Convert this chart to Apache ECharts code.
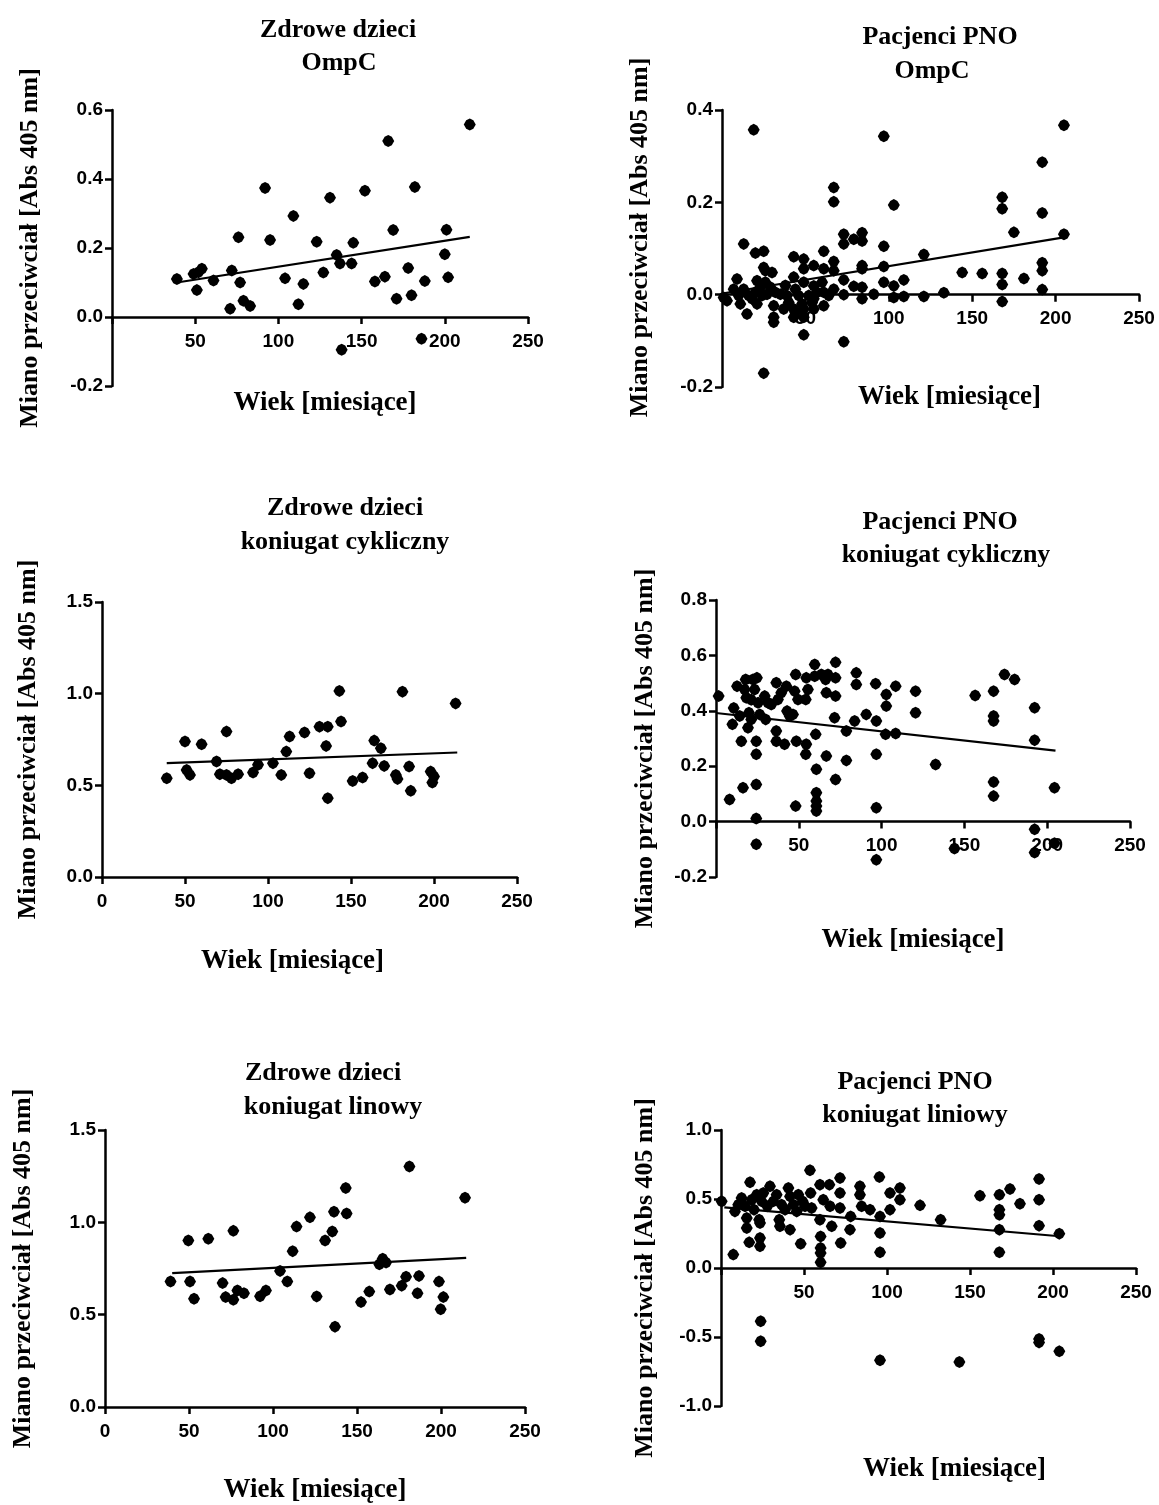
<!DOCTYPE html>
<html>
<head>
<meta charset="utf-8">
<script src="https://cdn.jsdelivr.net/npm/echarts@6/dist/echarts.min.js"></script>
<style>html,body{margin:0;padding:0;background:#fff}#c{width:1159px;height:1505px}</style>
</head>
<body>
<div id="c"></div>
<script>
// ---------- DATA ----------
var xTicks = [0, 50, 100, 150, 200, 250];
var yTitle = 'Miano przeciwciał [Abs 405 nm]';
var xTitle = 'Wiek [miesiące]';

// Panel 1: Zdrowe dzieci / OmpC
var p1x = [39,49,52,54,51,61,71,72,76,77,79,83,92,95,104,109,112,115,123,127,131,135,137,138,144,145,152,158,164,166,169,171,178,180,182,186,188,200,201,202,215];
var p1y = [0.11,0.125,0.13,0.14,0.078,0.106,0.024,0.135,0.231,0.10,0.047,0.032,0.374,0.223,0.112,0.293,0.037,0.096,0.218,0.129,0.346,0.18,0.155,-0.095,0.155,0.215,0.366,0.103,0.117,0.51,0.252,0.053,0.142,0.063,0.377,-0.063,0.104,0.182,0.253,0.115,0.558];
var p1lineX = [39, 215];
var p1lineY = [0.10, 0.232];

// Panel 2: Pacjenci PNO / OmpC
var p2x = [19,97,205,192,67,67,103,168,168,192,175,205,73,73,79,84,84,13,20,25,97,121,61,25,26,30,9,43,49,49,55,67,67,61,84,84,97,97,103,109,144,156,168,168,168,181,192,192,192,133,121,109,103,91,84,84,79,73,73,73,67,61,49,25,15,11,3,31,31,31,37,43,43,44,49,49,55,55,13,16,18,20,21,23,24,26,27,29,32,35,38,39,43,44,46,49,52,55,57,60,61,64,40,48,54,7,10,1,21];
var p2y = [0.357,0.343,0.367,0.287,0.232,0.201,0.194,0.211,0.186,0.177,0.135,0.131,0.131,0.11,0.12,0.134,0.116,0.11,0.09,0.094,0.105,0.087,0.094,0.059,0.052,0.048,0.034,0.082,0.077,0.056,0.063,0.072,0.052,0.056,0.063,0.056,0.061,0.027,0.019,0.032,0.048,0.046,0.046,0.022,-0.015,0.035,0.069,0.052,0.011,0.004,-0.004,-0.004,-0.006,0.001,0.016,-0.009,0.018,0.032,0.0,-0.102,0.012,-0.024,-0.087,-0.17,-0.042,-0.02,-0.013,-0.024,-0.049,-0.06,-0.031,-0.031,-0.049,-0.038,-0.049,-0.031,-0.031,-0.009,0.012,-0.002,-0.009,0.005,-0.02,0.016,-0.002,0.027,0.001,0.016,0.005,0.001,0.02,-0.002,0.038,0.012,-0.002,0.027,-0.002,0.019,0.005,0.027,0.005,-0.002,-0.017,-0.02,-0.017,0.012,-0.002,-0.006,0.03];
var p2lineX = [1, 205];
var p2lineY = [0.003, 0.124];

// Panel 3: Zdrowe dzieci / koniugat cykliczny
var p3x = [39,50,51,53,60,69,71,75,75,78,82,91,94,103,108,111,113,122,125,131,136,135,136,143,144,151,157,163,164,168,170,177,178,181,185,186,198,200,199,213];
var p3y = [0.539,0.739,0.584,0.557,0.724,0.63,0.561,0.793,0.557,0.539,0.561,0.57,0.612,0.621,0.557,0.684,0.766,0.788,0.566,0.82,0.82,0.715,0.43,1.015,0.848,0.524,0.543,0.621,0.744,0.702,0.606,0.557,0.535,1.011,0.603,0.47,0.575,0.548,0.515,0.947];
var p3lineX = [39, 214];
var p3lineY = [0.621, 0.679];

// Panel 4: Pacjenci PNO / koniugat cykliczny
var p4x = [1.6,8.2,9.9,10.7,12.7,14.3,15.3,16.3,17.3,18.3,17.9,19.3,19.9,21.3,21.3,22.3,23.3,24.3,24.3,24.3,24.3,24.3,24.7,25.4,26.4,29.4,30,31.4,33.4,36.4,36.4,36.4,37.4,39.4,41.4,42.5,42.9,44.5,46.5,47.5,48.1,48.5,48.1,49.5,54.5,54.2,54.5,54.2,55.5,59.6,59.6,60.2,60.6,60.6,60.6,60.6,60.6,63.6,66.2,66.6,66.6,67.6,72.2,72.2,72.2,71.6,72.2,78.7,78.7,83.7,84.7,84.7,90.7,96.4,96.8,96.8,96.8,96.8,102.4,102.8,102.8,108.5,108.5,120.5,120.5,132.6,144,156.5,167.6,167.6,167.6,167.6,167.6,174.2,180.3,192.4,192.4,192.4,192.4,204.4,204.4];
var p4y = [0.453,0.08,0.351,0.41,0.489,0.381,0.29,0.122,0.477,0.447,0.513,0.339,0.393,0.369,0.44,0.513,0.477,0.29,0.243,0.134,0.011,-0.082,0.519,0.429,0.387,0.453,0.369,0.429,0.423,0.501,0.327,0.29,0.441,0.465,0.279,0.489,0.399,0.381,0.387,0.471,0.531,0.29,0.056,0.441,0.519,0.441,0.279,0.243,0.477,0.567,0.525,0.315,0.189,0.104,0.074,0.056,0.038,0.531,0.513,0.465,0.237,0.531,0.575,0.519,0.453,0.375,0.152,0.327,0.221,0.363,0.537,0.495,0.387,0.498,0.363,0.243,0.05,-0.138,0.315,0.459,0.417,0.489,0.318,0.471,0.393,0.206,-0.097,0.455,0.471,0.381,0.363,0.143,0.092,0.531,0.513,0.411,0.294,-0.028,-0.112,0.122,-0.078];
var p4lineX = [0, 205];
var p4lineY = [0.392, 0.256];

// Panel 5: Zdrowe dzieci / koniugat linowy
var p5x = [39,49.6,50.6,53,61.5,70,71.8,76.4,76.4,78.8,82.7,92.3,95.8,104.2,108.5,111.7,114,122,126,131,135.3,136.3,136.9,143.3,143.8,152.4,157.3,163.3,165.3,167.3,169.6,176.6,179.2,181.2,186,186.9,198.8,201.4,199.8,214.3];
var p5y = [0.68,0.902,0.68,0.586,0.911,0.671,0.595,0.954,0.581,0.631,0.616,0.6,0.631,0.737,0.68,0.844,0.977,1.027,0.599,0.902,0.95,1.057,0.435,1.186,1.048,0.568,0.625,0.773,0.803,0.782,0.636,0.657,0.705,1.302,0.616,0.71,0.679,0.595,0.529,1.133];
var p5lineX = [40, 215];
var p5lineY = [0.725, 0.808];

// Panel 6: Pacjenci PNO / koniugat liniowy
var p6x = [0.4,7.4,8.4,10.4,12.4,14.5,15.5,15.5,17,17.5,18.5,19.9,21.5,23,23.5,23.5,23.9,23.9,23.5,24.5,25.5,27.9,29.5,31.5,33.5,35.1,35.5,36.5,38.6,40.6,41.6,41.6,43.6,45.6,46.6,48,49.2,50.6,53.6,54,54.6,59.6,59.6,60,60,60,60,61.6,65.3,65.7,66.7,71.7,71.7,71.7,72.1,77.7,78.1,83.7,83.7,84.7,89.8,95.4,95.8,95.8,95.8,95.8,101.8,101.8,107.8,107.8,119.9,132.3,143.6,156,167.7,167.7,167.7,167.7,167.7,174.1,180.1,191.6,191.6,191.6,191.6,191.6,203.8,203.8];
var p6y = [0.483,0.097,0.41,0.459,0.507,0.447,0.362,0.29,0.186,0.621,0.495,0.423,0.531,0.35,0.217,0.157,-0.386,-0.531,0.326,0.483,0.543,0.447,0.592,0.483,0.531,0.35,0.302,0.459,0.423,0.58,0.519,0.278,0.459,0.41,0.531,0.176,0.483,0.447,0.708,0.543,0.435,0.604,0.35,0.229,0.145,0.109,0.041,0.495,0.604,0.447,0.302,0.652,0.543,0.435,0.181,0.278,0.374,0.592,0.531,0.447,0.423,0.659,0.374,0.254,0.114,-0.669,0.543,0.423,0.58,0.495,0.454,0.35,-0.681,0.524,0.531,0.423,0.386,0.278,0.114,0.572,0.466,0.645,0.495,0.307,-0.514,-0.539,0.249,-0.604];
var p6lineX = [2, 204];
var p6lineY = [0.44, 0.23];

// ---------- LAYOUT / STYLE ----------
var SERIF = '"Liberation Serif", "Times New Roman", serif';
var SANS = '"Liberation Sans", Arial, sans-serif';
var SYMBOL = 'path://M0,-10L6,-7L10,0L6,7L0,10L-6,7L-10,0L-6,-7Z';

var panels = [
  {x:p1x, y:p1y, lx:p1lineX, ly:p1lineY, grid:[112,110,416,276], ymin:-0.2, ymax:0.6, yint:0.2, zero:false,
   t1:['Zdrowe dzieci',333,25], t2:['OmpC',334,58], yGap:69, yPad:[0,0,0,0], xGap:73, xShift:5},
  {x:p2x, y:p2y, lx:p2lineX, ly:p2lineY, grid:[722,110,417,277], ymin:-0.2, ymax:0.4, yint:0.2, zero:false,
   t1:['Pacjenci PNO',935,32], t2:['OmpC',927,66], yGap:69, yPad:[0,0,0,22], xGap:89, xShift:19},
  {x:p3x, y:p3y, lx:p3lineX, ly:p3lineY, grid:[102,602,415,275], ymin:0, ymax:1.5, yint:0.5, zero:true,
   t1:['Zdrowe dzieci',340,503], t2:['koniugat cykliczny',340,537], yGap:61, yPad:[0,0,0,0], xGap:71, xShift:-17},
  {x:p4x, y:p4y, lx:p4lineX, ly:p4lineY, grid:[716,600,414,277], ymin:-0.2, ymax:0.8, yint:0.2, zero:false,
   t1:['Pacjenci PNO',935,517], t2:['koniugat cykliczny',941,550], yGap:58, yPad:[0,20,0,0], xGap:105, xShift:-10},
  {x:p5x, y:p5y, lx:p5lineX, ly:p5lineY, grid:[105,1130,420,282], ymin:0, ymax:1.5, yint:0.5, zero:true,
   t1:['Zdrowe dzieci',318,1068], t2:['koniugat linowy',328,1102], yGap:69, yPad:[0,0,0,0], xGap:70, xShift:0},
  {x:p6x, y:p6y, lx:p6lineX, ly:p6lineY, grid:[721,1130,415,276], ymin:-1.0, ymax:1.0, yint:0.5, zero:false,
   t1:['Pacjenci PNO',910,1077], t2:['koniugat liniowy',910,1110], yGap:63, yPad:[0,20,0,0], xGap:188, xShift:26}
];

var grids = [], xAxes = [], yAxes = [], series = [], titles = [];
panels.forEach(function(p, i){
  grids.push({left:p.grid[0], top:p.grid[1], width:p.grid[2], height:p.grid[3], containLabel:false});
  [p.t1, p.t2].forEach(function(t){
    titles.push({text:t[0], left:t[1], top:t[2]-15, textAlign:'center',
      textStyle:{fontFamily:SERIF, fontWeight:'bold', fontSize:26, color:'#000', lineHeight:30}});
  });
  var showZero = p.zero;
  var xPad = p.xShift >= 0 ? [0,0,0,2*p.xShift] : [0,-2*p.xShift,0,0];
  // place the x axis (line, ticks, labels, name) where y = 0 crosses the plot
  var zeroOffset = -p.grid[3] * (0 - p.ymin) / (p.ymax - p.ymin);
  xAxes.push({
    gridIndex:i, type:'value', min:0, max:250, interval:50, position:'bottom', offset:zeroOffset,
    axisLine:{show:true, onZero:false, lineStyle:{color:'#000', width:2.5}},
    axisTick:{show:true, inside:false, length:7, lineStyle:{color:'#000', width:2.5}},
    splitLine:{show:false},
    axisLabel:{margin:15, color:'#000', fontFamily:SANS, fontWeight:'bold', fontSize:19,
      formatter:function(v){ return (v === 0 && !showZero) ? '' : String(v); }},
    name:xTitle, nameLocation:'middle', nameGap:p.xGap, nameMoveOverlap:false,
    nameTextStyle:{fontFamily:SERIF, fontWeight:'bold', fontSize:27, color:'#000', padding:xPad}
  });
  yAxes.push({
    gridIndex:i, type:'value', min:p.ymin, max:p.ymax, interval:p.yint,
    axisLine:{show:true, onZero:false, lineStyle:{color:'#000', width:2.5}},
    axisTick:{show:true, inside:false, length:7, lineStyle:{color:'#000', width:2.5}},
    splitLine:{show:false},
    axisLabel:{margin:9, color:'#000', fontFamily:SANS, fontWeight:'bold', fontSize:19,
      formatter:function(v){ return (Math.round(v*10)/10).toFixed(1); }},
    name:yTitle, nameLocation:'middle', nameGap:p.yGap, nameRotate:90, nameMoveOverlap:false,
    nameTextStyle:{fontFamily:SERIF, fontWeight:'bold', fontSize:26, color:'#000', padding:p.yPad}
  });
  series.push({
    type:'scatter', xAxisIndex:i, yAxisIndex:i, symbol:SYMBOL, symbolSize:12,
    itemStyle:{color:'#000', opacity:1},
    data:p.x.map(function(x, k){ return [x, p.y[k]]; }),
    z:3
  });
  series.push({
    type:'line', xAxisIndex:i, yAxisIndex:i, symbol:'none',
    lineStyle:{color:'#000', width:2.2},
    data:p.lx.map(function(x, k){ return [x, p.ly[k]]; }),
    z:4
  });
});

var chart = echarts.init(document.getElementById('c'), null, {renderer:'canvas'});
chart.setOption({
  animation:false,
  backgroundColor:'#fff',
  title:titles,
  grid:grids,
  xAxis:xAxes,
  yAxis:yAxes,
  series:series
});
</script>
</body>
</html>
